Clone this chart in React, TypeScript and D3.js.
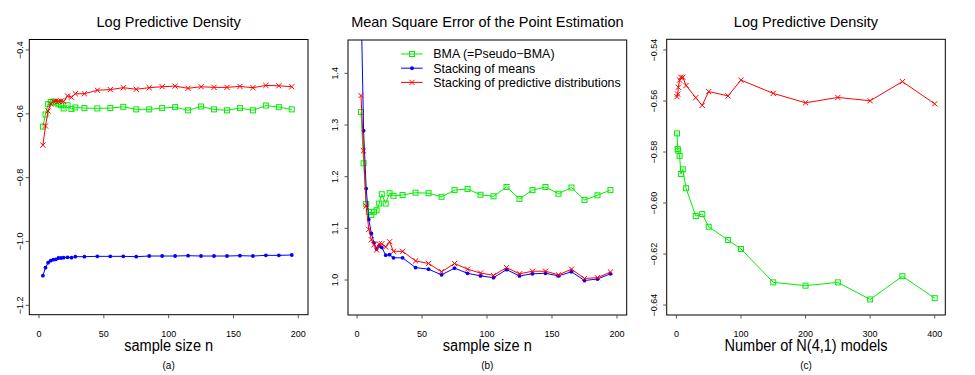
import React from "react";
import * as d3 from "d3";

// Sample sizes used in panels (a) and (b)
const sampleSizes = [3, 5, 7, 9, 11, 13, 15, 17, 19, 22, 25, 28, 35, 45, 55, 65, 75, 85, 95, 105, 115, 125, 135, 145, 155, 165, 175, 185, 195];

// (a) log predictive density by sample size
const lpdBma = [-0.640, -0.602, -0.570, -0.563, -0.562, -0.565, -0.570, -0.573, -0.583, -0.573, -0.585, -0.580, -0.582, -0.583, -0.582, -0.578, -0.586, -0.586, -0.582, -0.579, -0.589, -0.577, -0.586, -0.589, -0.582, -0.589, -0.574, -0.579, -0.586];
const lpdStackMeans = [-1.1072, -1.0821, -1.0665, -1.0602, -1.0571, -1.056, -1.0518, -1.0518, -1.0508, -1.0497, -1.0508, -1.0476, -1.0476, -1.0466, -1.0466, -1.0466, -1.0476, -1.0456, -1.0456, -1.0456, -1.0445, -1.0456, -1.0456, -1.0456, -1.0445, -1.0456, -1.0435, -1.0435, -1.0424];
const lpdStackDist = [-0.698, -0.638, -0.591, -0.569, -0.561, -0.560, -0.561, -0.560, -0.561, -0.544, -0.548, -0.537, -0.537, -0.526, -0.524, -0.518, -0.523, -0.518, -0.515, -0.513, -0.520, -0.515, -0.517, -0.517, -0.514, -0.518, -0.511, -0.512, -0.515];

// (b) mean square error of the point estimation by sample size
const mseBma = [1.325, 1.226, 1.147, 1.132, 1.126, 1.132, 1.135, 1.148, 1.166, 1.148, 1.168, 1.163, 1.1645, 1.169, 1.168, 1.161, 1.174, 1.176, 1.165, 1.162, 1.180, 1.157, 1.174, 1.180, 1.167, 1.179, 1.155, 1.164, 1.174];
const mseStackMeans = [1.55, 1.289, 1.177, 1.117, 1.090, 1.072, 1.060, 1.066, 1.063, 1.048, 1.049, 1.043, 1.043, 1.024, 1.021, 1.010, 1.023, 1.013, 1.008, 1.0045, 1.020, 1.008, 1.012, 1.013, 1.008, 1.016, 0.999, 1.002, 1.012];
const mseStackDist = [1.357, 1.250, 1.143, 1.098, 1.078, 1.068, 1.058, 1.070, 1.070, 1.064, 1.074, 1.0555, 1.0555, 1.037, 1.032, 1.016, 1.032, 1.021, 1.0135, 1.009, 1.024, 1.012, 1.017, 1.017, 1.010, 1.021, 1.003, 1.0045, 1.0155];

// (c) log predictive density by number of N(4,1) models
const modelCounts = [1, 2, 3, 5, 7, 10, 15, 30, 40, 50, 80, 100, 150, 200, 250, 300, 350, 400];
const lpdModelsBma = [-0.5727, -0.5788, -0.5795, -0.5815, -0.5886, -0.5868, -0.5942, -0.6051, -0.6043, -0.6093, -0.6145, -0.618, -0.6311, -0.6324, -0.6311, -0.6378, -0.6287, -0.6373];
const lpdModelsStackDist = [-0.5583, -0.5573, -0.5546, -0.5518, -0.5507, -0.5507, -0.5539, -0.5587, -0.5617, -0.5563, -0.558, -0.5518, -0.557, -0.5607, -0.5586, -0.5599, -0.5524, -0.5611];

// Tick values
const sampleTicks = [0, 50, 100, 150, 200];
const modelTicks = [0, 100, 200, 300, 400];
const lpdTicks = [-0.4, -0.6, -0.8, -1.0, -1.2];
const mseTicks = [1.0, 1.1, 1.2, 1.3, 1.4];
const lpdModelTicks = [-0.54, -0.56, -0.58, -0.6, -0.62, -0.64];

const legendLabels = ["BMA (=Pseudo\u2212BMA)", "Stacking of means", "Stacking of predictive distributions"];

const GREEN = "#00ee00";
const BLUE = "#0000ff";
const RED = "#ff0000";
const FONT = "'Liberation Sans', Arial, Helvetica, sans-serif";

type Shape = "square" | "dot" | "cross";
type Series = { xs: number[]; ys: number[]; color: string; shape: Shape };

const fmt = (digits: number) => (v: number) => {
  const s = Math.abs(v).toFixed(digits);
  return v < 0 ? "\u2212" + s : s;
};

function Marker({ x, y, shape, color }: { x: number; y: number; shape: Shape; color: string }) {
  if (shape === "square") {
    return <rect x={x - 2.5} y={y - 2.5} width={5} height={5} fill="none" stroke={color} strokeWidth={1} />;
  }
  if (shape === "dot") {
    return <circle cx={x} cy={y} r={1.9} fill={color} />;
  }
  const s = 2.6;
  return (
    <g stroke={color} strokeWidth={1}>
      <line x1={x - s} y1={y - s} x2={x + s} y2={y + s} />
      <line x1={x - s} y1={y + s} x2={x + s} y2={y - s} />
    </g>
  );
}

type PanelProps = {
  id: string;
  box: [number, number, number, number]; // left, right, top, bottom
  xDomain: [number, number];
  yDomain: [number, number];
  xTicks: number[];
  yTicks: number[];
  yFormat: (v: number) => string;
  yLabelGap: number;
  series: Series[];
  title: string;
  xLabel: string;
  xLabelWidth: number;
  tag: string;
  legend?: boolean;
};

function Panel(p: PanelProps) {
  const [l, r, t, b] = p.box;
  const x = d3.scaleLinear().domain(p.xDomain).range([l, r]);
  const y = d3.scaleLinear().domain(p.yDomain).range([b, t]);
  const line = d3
    .line<[number, number]>()
    .x((d) => x(d[0]))
    .y((d) => y(d[1]));
  const cx = (l + r) / 2;
  const clipId = `clip-${p.id}`;
  const tick = 3.5;

  return (
    <g fontFamily={FONT}>
      <defs>
        <clipPath id={clipId}>
          <rect x={l} y={t} width={r - l} height={b - t} />
        </clipPath>
      </defs>
      <text x={cx} y={26.7} textAnchor="middle" fontSize={14.5}>
        {p.title}
      </text>

      <g clipPath={`url(#${clipId})`}>
        {p.series.map((s, i) => {
          const pts = s.xs.map((v, k) => [v, s.ys[k]] as [number, number]);
          return (
            <g key={i}>
              <path d={line(pts) || ""} fill="none" stroke={s.color} strokeWidth={1} />
              {pts.map((d, k) => (
                <Marker key={k} x={x(d[0])} y={y(d[1])} shape={s.shape} color={s.color} />
              ))}
            </g>
          );
        })}
      </g>

      <rect x={l} y={t} width={r - l} height={b - t} fill="none" stroke="#000" strokeWidth={1} />

      {p.xTicks.map((v) => (
        <g key={v}>
          <line x1={x(v)} x2={x(v)} y1={b} y2={b + tick} stroke="#555" strokeWidth={1} />
          <text x={x(v)} y={336.7} textAnchor="middle" fontSize={9}>
            {v}
          </text>
        </g>
      ))}
      {p.yTicks.map((v) => (
        <g key={v}>
          <line x1={l - tick} x2={l} y1={y(v)} y2={y(v)} stroke="#555" strokeWidth={1} />
          <text
            transform={`translate(${l - p.yLabelGap},${y(v)}) rotate(-90)`}
            textAnchor="middle"
            fontSize={9}
          >
            {p.yFormat(v)}
          </text>
        </g>
      ))}

      <text x={cx} y={351} textAnchor="middle" fontSize={16} textLength={p.xLabelWidth} lengthAdjust="spacingAndGlyphs">
        {p.xLabel}
      </text>
      <text x={cx} y={368.5} textAnchor="middle" fontSize={10}>
        {p.tag}
      </text>

      {p.legend &&
        legendLabels.map((label, i) => {
          const s = p.series[i];
          const ly = 54 + i * 14.2;
          return (
            <g key={label}>
              <line x1={401} x2={422.7} y1={ly} y2={ly} stroke={s.color} strokeWidth={1} />
              <Marker x={412} y={ly} shape={s.shape} color={s.color} />
              <text x={433.3} y={ly + 4.3} fontSize={12.4}>
                {label}
              </text>
            </g>
          );
        })}
    </g>
  );
}

export default function App() {
  return (
    <svg
      width={975}
      height={375}
      style={{ position: "absolute", left: 0, top: 0, background: "#fff" }}
    >
      <rect width={975} height={375} fill="#fff" />
      <Panel
        id="a"
        box={[29.3, 308, 39.5, 314.7]}
        xDomain={[-7.5, 207.5]}
        yDomain={[-1.2295, -0.367]}
        xTicks={sampleTicks}
        yTicks={lpdTicks}
        yFormat={fmt(1)}
        yLabelGap={6.6}
        title="Log Predictive Density"
        xLabel="sample size n"
        xLabelWidth={89}
        tag="(a)"
        series={[
          { xs: sampleSizes, ys: lpdBma, color: GREEN, shape: "square" },
          { xs: sampleSizes, ys: lpdStackMeans, color: BLUE, shape: "dot" },
          { xs: sampleSizes, ys: lpdStackDist, color: RED, shape: "cross" },
        ]}
      />
      <Panel
        id="b"
        box={[348, 626.7, 40, 315]}
        xDomain={[-7, 207.5]}
        yDomain={[0.9323, 1.4645]}
        xTicks={sampleTicks}
        yTicks={mseTicks}
        yFormat={fmt(1)}
        yLabelGap={9.7}
        title="Mean Square Error of the Point Estimation"
        xLabel="sample size n"
        xLabelWidth={89}
        tag="(b)"
        legend
        series={[
          { xs: sampleSizes, ys: mseBma, color: GREEN, shape: "square" },
          { xs: sampleSizes, ys: mseStackMeans, color: BLUE, shape: "dot" },
          { xs: sampleSizes, ys: mseStackDist, color: RED, shape: "cross" },
        ]}
      />
      <Panel
        id="c"
        box={[666.7, 945.3, 39.3, 315]}
        xDomain={[-15, 416.4]}
        yDomain={[-0.6439, -0.5358]}
        xTicks={modelTicks}
        yTicks={lpdModelTicks}
        yFormat={fmt(2)}
        yLabelGap={10}
        title="Log Predictive Density"
        xLabel="Number of N(4,1) models"
        xLabelWidth={163}
        tag="(c)"
        series={[
          { xs: modelCounts, ys: lpdModelsBma, color: GREEN, shape: "square" },
          { xs: modelCounts, ys: lpdModelsStackDist, color: RED, shape: "cross" },
        ]}
      />
    </svg>
  );
}
